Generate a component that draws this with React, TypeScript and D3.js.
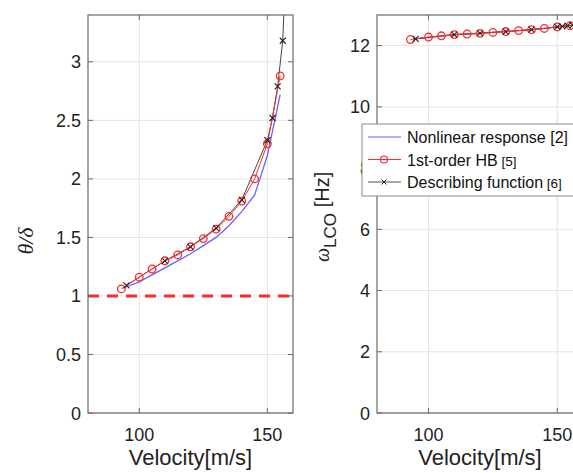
import React from "react";
import * as d3 from "d3";

// ---- Data ----
const xTicks = [100, 150];
const yTicksLeft = [0, 0.5, 1, 1.5, 2, 2.5, 3];
const yTicksRight = [0, 2, 4, 6, 8, 10, 12];

// Left panel: amplitude ratio theta/delta
const nlVel = [94, 100, 105, 110, 115, 120, 125, 130, 135, 140, 145, 150, 155];
const nlAmp = [1.07, 1.12, 1.18, 1.24, 1.3, 1.36, 1.43, 1.5, 1.6, 1.72, 1.86, 2.2, 2.72];

const hbVel = [93, 100, 105, 110, 115, 120, 125, 130, 135, 140, 145, 150, 155];
const hbAmp = [1.06, 1.16, 1.23, 1.3, 1.35, 1.42, 1.49, 1.57, 1.68, 1.81, 2.0, 2.3, 2.88];

const dfVel = [95, 110, 120, 130, 140, 150, 152, 154, 156, 157.5];
const dfAmp = [1.09, 1.3, 1.42, 1.58, 1.82, 2.33, 2.52, 2.79, 3.18, 4.0];

// Right panel: LCO frequency [Hz]
const nlFreq = [12.21, 12.27, 12.31, 12.35, 12.38, 12.4, 12.43, 12.46, 12.49, 12.52, 12.56, 12.61, 12.66];
const hbFreq = [12.2, 12.28, 12.32, 12.36, 12.38, 12.4, 12.43, 12.46, 12.49, 12.52, 12.56, 12.61, 12.65];
const dfFreq = [12.22, 12.36, 12.41, 12.46, 12.52, 12.61, 12.63, 12.65, 12.67, 12.69];

const legendLabels = ["Nonlinear response", "1st-order HB", "Describing function"];
const legendRefs = ["[2]", "[5]", "[6]"];

// ---- Style ----
const SANS = "'Liberation Sans', Arial, Helvetica, sans-serif";
const SERIF = "'Liberation Serif', 'Times New Roman', serif";
const BLUE = "#6464ff";
const RED = "#ff2a2a";
const DARK = "#444";
const AXIS = "#6a6a6a";
const GRID = "#e4e4e4";

type Pt = [number, number];
const zip = (xs: number[], ys: number[]): Pt[] => xs.map((x, i) => [x, ys[i]]);

function Panel(props: {
  left: number; right: number; top: number; bottom: number;
  yMax: number; yTicks: number[]; fmt: (v: number) => string;
  nl: Pt[]; hb: Pt[]; df: Pt[]; id: string; dashed?: boolean;
}) {
  const { left, right, top, bottom, yMax, yTicks, fmt, nl, hb, df, id, dashed } = props;
  const x = d3.scaleLinear().domain([80, 160]).range([left, right]);
  const y = d3.scaleLinear().domain([0, yMax]).range([bottom, top]);
  const line = d3.line<Pt>().x((d) => x(d[0])).y((d) => y(d[1]));
  const tl = 5;
  return (
    <g>
      <defs>
        <clipPath id={id}>
          <rect x={left} y={top} width={right - left} height={bottom - top} />
        </clipPath>
      </defs>
      {/* grid */}
      {xTicks.map((t) => (
        <line key={"gx" + t} x1={x(t)} x2={x(t)} y1={top} y2={bottom} stroke={GRID} strokeWidth={1} />
      ))}
      {yTicks.map((t) => (
        <line key={"gy" + t} x1={left} x2={right} y1={y(t)} y2={y(t)} stroke={GRID} strokeWidth={1} />
      ))}
      <g clipPath={`url(#${id})`}>
        {dashed && (
          <line x1={left} x2={right} y1={y(1)} y2={y(1)} stroke={RED} strokeWidth={3} strokeDasharray="11 8" />
        )}
        <path d={line(nl) || ""} fill="none" stroke={BLUE} strokeWidth={1.3} />
        <path d={line(df) || ""} fill="none" stroke={DARK} strokeWidth={1} />
        <path d={line(hb) || ""} fill="none" stroke={RED} strokeWidth={1} />
        {hb.map((d, i) => (
          <circle key={"c" + i} cx={x(d[0])} cy={y(d[1])} r={3.8} fill="none" stroke={RED} strokeWidth={1.3} />
        ))}
        {df.map((d, i) => {
          const cx = x(d[0]);
          const cy = y(d[1]);
          const s = 3;
          return (
            <path key={"x" + i} d={`M${cx - s},${cy - s}L${cx + s},${cy + s}M${cx - s},${cy + s}L${cx + s},${cy - s}`}
              stroke="#222" strokeWidth={1.1} fill="none" />
          );
        })}
      </g>
      {/* axes box */}
      <rect x={left} y={top} width={right - left} height={bottom - top} fill="none" stroke={AXIS} strokeWidth={1.2} />
      {xTicks.map((t) => (
        <g key={"tx" + t}>
          <line x1={x(t)} x2={x(t)} y1={bottom} y2={bottom - tl} stroke={AXIS} />
          <line x1={x(t)} x2={x(t)} y1={top} y2={top + tl} stroke={AXIS} />
          <text x={x(t)} y={bottom + 28} textAnchor="middle" fontFamily={SANS} fontSize={18} fill="#222">{t}</text>
        </g>
      ))}
      {yTicks.map((t) => (
        <g key={"ty" + t}>
          <line x1={left} x2={left + tl} y1={y(t)} y2={y(t)} stroke={AXIS} />
          <line x1={right} x2={right - tl} y1={y(t)} y2={y(t)} stroke={AXIS} />
          <text x={left - 7} y={y(t) + 6.5} textAnchor="end" fontFamily={SANS} fontSize={18} fill="#222">{fmt(t)}</text>
        </g>
      ))}
      <text x={(left + right) / 2} y={bottom + 52} textAnchor="middle" fontFamily={SANS} fontSize={22} fill="#222">
        Velocity[m/s]
      </text>
    </g>
  );
}

export default function App() {
  const fmtL = d3.format("");
  return (
    <svg width={573} height={473} style={{ position: "absolute", left: 0, top: 0, background: "#fff" }}>
      <rect x={0} y={0} width={573} height={473} fill="#fff" />
      <Panel id="clipL" left={88} right={293} top={15} bottom={413} yMax={3.4}
        yTicks={yTicksLeft} fmt={(v) => fmtL(v)}
        nl={zip(nlVel, nlAmp)} hb={zip(hbVel, hbAmp)} df={zip(dfVel, dfAmp)} dashed />
      <Panel id="clipR" left={377} right={583} top={15} bottom={413} yMax={13}
        yTicks={yTicksRight} fmt={(v) => String(v)}
        nl={zip(nlVel, nlFreq)} hb={zip(hbVel, hbFreq)} df={zip(dfVel, dfFreq)} />
      {/* left y label */}
      <text transform="translate(33,241) rotate(-90)" textAnchor="middle" fontFamily={SERIF} fontStyle="italic" fontSize={22} fill="#222">
        θ/δ
      </text>
      {/* right y label */}
      <text transform="translate(329,262) rotate(-90)" textAnchor="start" fontFamily={SANS} fontSize={20} fill="#222">
        <tspan fontFamily={SERIF} fontStyle="italic" fontSize={20}>ω</tspan>
        <tspan dy={7} fontSize={17}>LCO</tspan>
        <tspan dy={-7} fontSize={20}> [Hz]</tspan>
      </text>
      {/* legend */}
      <g>
        <rect x={362} y={124} width={230} height={72} fill="#fff" stroke="#8a8a8a" strokeWidth={1} />
        {legendLabels.map((lab, i) => {
          const ly = 137 + i * 22.5;
          const color = i === 0 ? BLUE : i === 1 ? RED : "#555";
          const mx = 384;
          return (
            <g key={lab}>
              <line x1={368} x2={401} y1={ly} y2={ly} stroke={color} strokeWidth={1.2} />
              {i === 1 && <circle cx={mx} cy={ly} r={3.5} fill="none" stroke={RED} strokeWidth={1.2} />}
              {i === 2 && (
                <path d={`M${mx - 2.5},${ly - 2.5}L${mx + 2.5},${ly + 2.5}M${mx - 2.5},${ly + 2.5}L${mx + 2.5},${ly - 2.5}`}
                  stroke="#222" strokeWidth={1} />
              )}
              <text x={407} y={ly + 6} fontFamily={SANS} fontSize={16} fill="#111">
                {lab}
                <tspan fontSize={i === 0 ? 16 : 13.5}>{" " + legendRefs[i]}</tspan>
              </text>
            </g>
          );
        })}
      </g>
    </svg>
  );
}
